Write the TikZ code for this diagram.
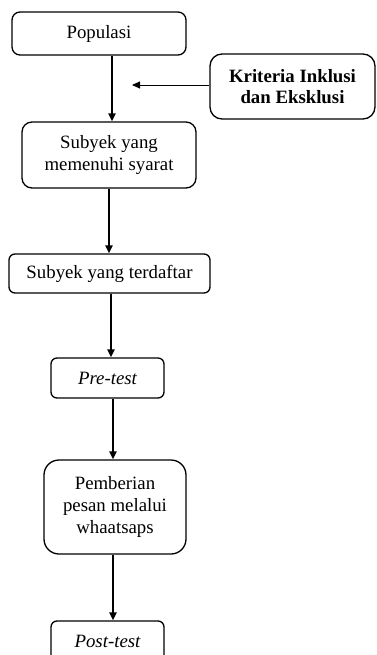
\documentclass[tikz,border=0pt]{standalone}
\usepackage{fontspec}
\setmainfont{Liberation Serif}
\usetikzlibrary{arrows.meta}
\begin{document}
\begin{tikzpicture}[x=1pt,y=-1pt,
  box/.style={draw, line width=1.3pt, inner sep=0pt, align=center,
    font=\fontsize{18.8}{21.6}\selectfont},
  flow/.style={line width=2pt, -{Triangle[length=8pt,width=7pt]}},
  thinflow/.style={line width=0.9pt, -{Triangle[length=8pt,width=7pt]}}]
\useasboundingbox (0,0) rectangle (376,655);
\node[box, rounded corners=8pt, minimum width=174pt, minimum height=43pt] (pop) at (99,33.5) {Populasi};
\node[box, rounded corners=12pt, minimum width=165pt, minimum height=65pt, font=\fontsize{18.8}{21.6}\selectfont\bfseries] (kri) at (292.5,86.5) {Kriteria Inklusi\\dan Eksklusi};
\node[box, rounded corners=10pt, minimum width=174pt, minimum height=66pt] (sub) at (109,155) {Subyek yang\\memenuhi syarat};
\node[box, rounded corners=6pt, minimum width=201pt, minimum height=39pt] (ter) at (109.5,273.5) {Subyek yang terdaftar};
\node[box, rounded corners=6pt, minimum width=113pt, minimum height=40pt] (pre) at (107.5,378) {\itshape Pre-test};
\node[box, rounded corners=15pt, minimum width=142pt, minimum height=94pt] (pem) at (115,507) {Pemberian\\pesan melalui\\whaatsaps};
\node[box, rounded corners=6pt, minimum width=113pt, minimum height=40pt] (post) at (107.5,641) {\itshape Post-test};
\coordinate (c1) at (112,0);
\coordinate (c2) at (109,0);
\coordinate (c3) at (111,0);
\coordinate (c4) at (113,0);
\coordinate (free) at (132,85);
\draw[flow] (pop.south -| c1) -- (sub.north -| c1);
\draw[thinflow] (kri.west |- free) -- (free);
\draw[flow] (sub.south -| c2) -- (ter.north -| c2);
\draw[flow] (ter.south -| c3) -- (pre.north -| c3);
\draw[flow] (pre.south -| c4) -- (pem.north -| c4);
\draw[flow] (pem.south -| c4) -- (post.north -| c4);
\end{tikzpicture}
\end{document}
